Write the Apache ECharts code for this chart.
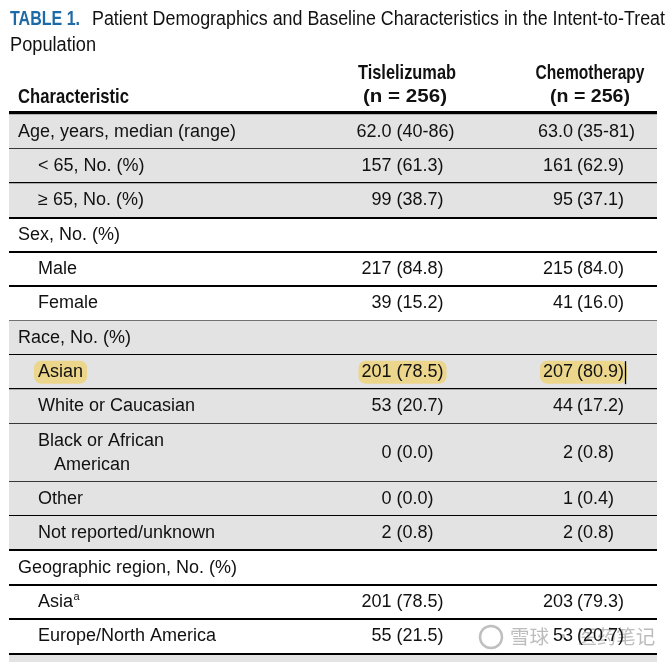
<!DOCTYPE html>
<html><head><meta charset="utf-8">
<script src="https://cdn.jsdelivr.net/npm/echarts@6/dist/echarts.min.js"></script>
<style>html,body{margin:0;padding:0;background:#fff}#c{width:669px;height:662px}</style>
</head><body><div id="c"></div>
<script>
// ---------- data ----------
const tableNumber = 'TABLE 1.';
const titleLines = ['Patient Demographics and Baseline Characteristics in the Intent-to-Treat', 'Population'];
const headerFirstColumn = 'Characteristic';
const armNames = ['Tislelizumab', 'Chemotherapy'];
const armSizes = ['(n = 256)', '(n = 256)'];
const characteristics = ['Age, years, median (range)', '< 65, No. (%)', '≥ 65, No. (%)', 'Sex, No. (%)', 'Male', 'Female',
  'Race, No. (%)', 'Asian', 'White or Caucasian', 'Black or African\nAmerican', 'Other', 'Not reported/unknown',
  'Geographic region, No. (%)', 'Asia', 'Europe/North America'];
const footnoteMarks = ['', '', '', '', '', '', '', '', '', '', '', '', '', 'a', ''];
const indentLevels = [0, 1, 1, 0, 1, 1, 0, 1, 1, 1, 1, 1, 0, 1, 1];
const sectionIds = [0, 0, 0, 1, 1, 1, 2, 2, 2, 2, 2, 2, 3, 3, 3];
const tislelizumab = ['62.0 (40-86)', '157 (61.3)', '99 (38.7)', '', '217 (84.8)', '39 (15.2)', '', '201 (78.5)', '53 (20.7)', '0 (0.0)', '0 (0.0)', '2 (0.8)', '', '201 (78.5)', '55 (21.5)'];
const chemotherapy = ['63.0 (35-81)', '161 (62.9)', '95 (37.1)', '', '215 (84.0)', '41 (16.0)', '', '207 (80.9)', '44 (17.2)', '2 (0.8)', '1 (0.4)', '2 (0.8)', '', '203 (79.3)', '53 (20.7)'];
const highlightedRows = [7];
const watermarkText = '雪球 · 医药笔记';

// ---------- layout / style ----------
const BODY_FONT = "'Liberation Sans', Arial, sans-serif";
const BODY_SIZE = 18;
const GRAY = '#e3e3e3';
const HILITE = '#ecd68c';
const BLUE = '#1d6aa6';
const tableLeft = 9, tableRight = 657;
const tableTop = 114.5, tableBottomLine = 654, bandPx = 8.5;
const indentX = [18, 38];
const contIndent = 16;
const colSplit = [[391.5, 396.5], [573, 577]];
const lineGap = 24;

const rowUnits = characteristics.map(c => 1 + (c.split('\n').length - 1) * 0.69);
const rowStart = [];
rowUnits.reduce((acc, u, i) => { rowStart[i] = acc; return acc + u; }, 0);
const totalUnits = rowUnits.reduce((a, b) => a + b, 0);
const unitPx = (tableBottomLine - tableTop) / totalUnits;
const bandUnits = bandPx / unitPx;

const mctx = document.createElement('canvas').getContext('2d');
function tw(t, size, family, weight) { mctx.font = (weight || 'normal') + ' ' + size + 'px ' + family; return mctx.measureText(t).width; }

// condensed text: Liberation Sans squeezed horizontally to a target width
function narrowText(text, x, y, size, weight, fill, targetWidth, align) {
  const w = tw(text, size, BODY_FONT, weight);
  const s = targetWidth / w;
  let ox = x;
  if (align === 'center') ox = x - targetWidth / 2;
  return { type: 'text', x: ox, y: y, scaleX: s, style: { text: text, x: 0, y: 0, align: 'left', verticalAlign: 'middle', fontSize: size, fontFamily: BODY_FONT, fontWeight: weight, fill: fill } };
}

function valueCell(text, col, cy, kids, hl, cursor) {
  if (!text) return;
  const k = text.indexOf(' (');
  const a = text.slice(0, k), b = text.slice(k + 1);
  const [xr, xl] = colSplit[col];
  if (hl) {
    const wa = tw(a, BODY_SIZE, BODY_FONT), wb = tw(b, BODY_SIZE, BODY_FONT);
    kids.push({ type: 'rect', shape: { x: xr - wa - 3, y: cy - 11.5, width: wa + wb + (xl - xr) + 6, height: 23, r: 7 }, style: { fill: HILITE } });
    if (cursor) kids.push({ type: 'line', shape: { x1: xl + wb + 1.5, y1: cy - 11, x2: xl + wb + 1.5, y2: cy + 12 }, style: { stroke: '#000', lineWidth: 1.3 } });
  }
  kids.push({ type: 'text', style: { text: a, x: xr, y: cy, align: 'right', verticalAlign: 'middle', fontSize: BODY_SIZE, fontFamily: BODY_FONT, fill: '#111' } });
  kids.push({ type: 'text', style: { text: b, x: xl, y: cy, align: 'left', verticalAlign: 'middle', fontSize: BODY_SIZE, fontFamily: BODY_FONT, fill: '#111' } });
}

function renderRow(params, api) {
  const i = api.value(0);
  const top = api.coord([0, rowStart[i]])[1];
  const bot = api.coord([0, rowStart[i] + rowUnits[i]])[1];
  const xL = api.coord([tableLeft, 0])[0], xR = api.coord([tableRight, 0])[0];
  const cy = (top + bot) / 2;
  const kids = [];
  if (sectionIds[i] % 2 === 0) kids.push({ type: 'rect', shape: { x: xL, y: top, width: xR - xL, height: bot - top }, style: { fill: GRAY } });
  const hl = highlightedRows.indexOf(i) >= 0;
  const lines = characteristics[i].split('\n');
  const lx = api.coord([indentX[indentLevels[i]], 0])[0];
  lines.forEach((ln, k) => {
    const y = cy + (k - (lines.length - 1) / 2) * lineGap;
    const x = lx + (k > 0 ? contIndent : 0);
    if (hl) {
      const w = tw(ln, BODY_SIZE, BODY_FONT);
      kids.push({ type: 'rect', shape: { x: x - 4, y: y - 11.5, width: w + 8, height: 23, r: 7 }, style: { fill: HILITE } });
    }
    kids.push({ type: 'text', style: { text: ln, x: x, y: y, align: 'left', verticalAlign: 'middle', fontSize: BODY_SIZE, fontFamily: BODY_FONT, fill: '#111' } });
    if (k === lines.length - 1 && footnoteMarks[i]) {
      const w = tw(ln, BODY_SIZE, BODY_FONT);
      kids.push({ type: 'text', style: { text: footnoteMarks[i], x: x + w + 0.5, y: y - 5, align: 'left', verticalAlign: 'middle', fontSize: 11, fontFamily: BODY_FONT, fill: '#111' } });
    }
  });
  valueCell(tislelizumab[i], 0, cy, kids, hl, false);
  valueCell(chemotherapy[i], 1, cy, kids, hl, true);
  const ly = Math.round(bot);
  kids.push({ type: 'line', shape: { x1: xL, y1: ly, x2: xR, y2: ly }, style: { stroke: '#000', lineWidth: 2 } });
  if (i === characteristics.length - 1) {
    const nextShaded = (sectionIds[i] + 1) % 2 === 0;
    const bandBot = api.coord([0, totalUnits + bandUnits])[1];
    if (nextShaded) kids.unshift({ type: 'rect', shape: { x: xL, y: bot, width: xR - xL, height: bandBot - bot }, style: { fill: GRAY } });
  }
  return { type: 'group', children: kids };
}

const chart = echarts.init(document.getElementById('c'), null, { renderer: 'canvas' });
const graphics = [
  narrowText(tableNumber, 10, 19, 20, 'bold', BLUE, 70, 'left'),
  narrowText(titleLines[0], 92, 19, 20, 'normal', '#111', 573, 'left'),
  narrowText(titleLines[1], 10, 45, 20, 'normal', '#111', 86, 'left'),
  narrowText(headerFirstColumn, 18, 97, 20.5, 'bold', '#111', 111, 'left'),
  narrowText(armNames[0], 407, 73, 20.5, 'bold', '#111', 98, 'center'),
  narrowText(armSizes[0], 405, 97, 19, 'bold', '#111', 84, 'center'),
  narrowText(armNames[1], 590, 73, 20.5, 'bold', '#111', 109, 'center'),
  narrowText(armSizes[1], 590, 97, 19, 'bold', '#111', 80, 'center'),
  { type: 'rect', shape: { x: tableLeft, y: 111, width: tableRight - tableLeft, height: 3.5 }, style: { fill: '#000' } },
  { type: 'group', z: 100, children: [
    { type: 'circle', shape: { cx: 491, cy: 637, r: 11 }, style: { fill: 'none', stroke: 'rgba(170,170,170,0.75)', lineWidth: 2.5 } },
    { type: 'text', style: { text: watermarkText, x: 510, y: 637, verticalAlign: 'middle', fontSize: 19.5, fontFamily: "'Noto Sans CJK SC', sans-serif", fill: 'rgba(165,165,165,0.75)', stroke: 'rgba(255,255,255,0.6)', lineWidth: 2 } }
  ] }
];

chart.setOption({
  animation: false,
  grid: { left: 0, right: 0, top: tableTop, height: (tableBottomLine - tableTop) + bandPx },
  xAxis: { type: 'value', min: 0, max: 669, show: false },
  yAxis: { type: 'value', min: 0, max: totalUnits + bandUnits, inverse: true, show: false },
  graphic: graphics,
  series: [{ type: 'custom', coordinateSystem: 'cartesian2d', clip: false, silent: true,
    data: characteristics.map((_, i) => [i]), encode: { y: 0 }, renderItem: renderRow }]
});
</script></body></html>
